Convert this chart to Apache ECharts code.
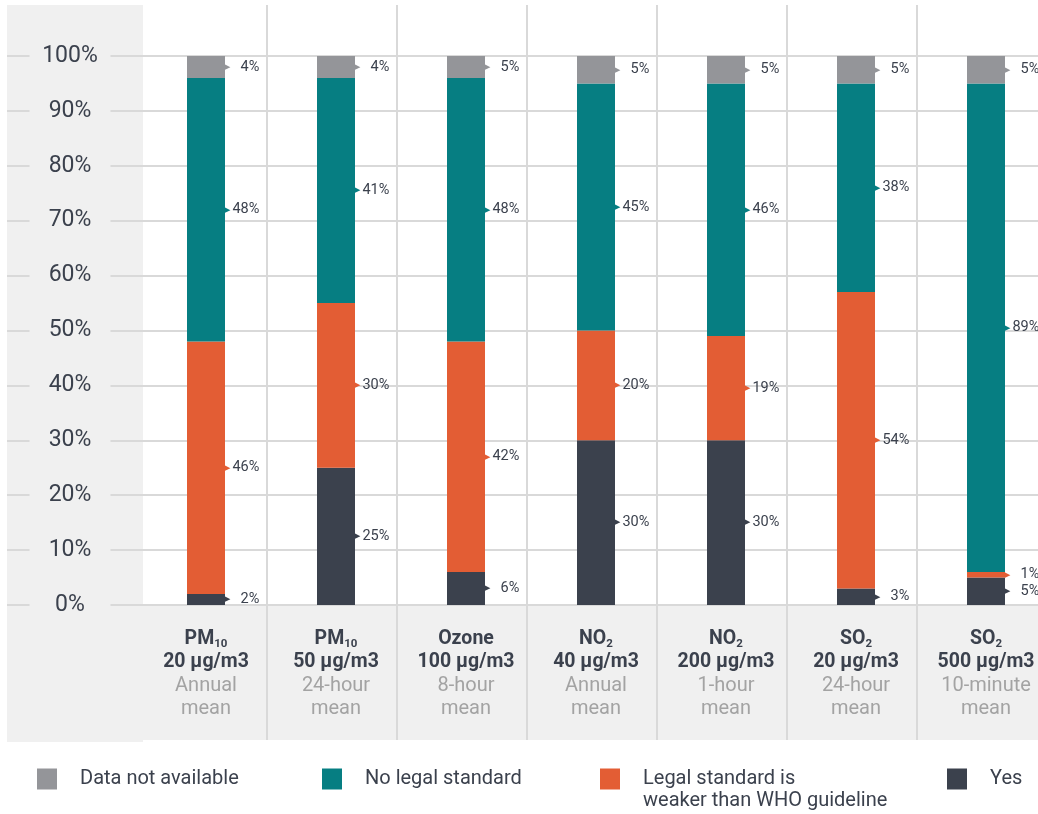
<!DOCTYPE html>
<html>
<head>
<meta charset="utf-8">
<script src="https://cdn.jsdelivr.net/npm/echarts@6/dist/echarts.min.js"></script>
<style>
html,body{margin:0;padding:0;background:#fff;}
#chart{width:1038px;height:814px;}
</style>
</head>
<body>
<div id="chart"></div>
<script>
// ---- data ----
const pollutants = ['PM', 'PM', 'Ozone', 'NO', 'NO', 'SO', 'SO'];
const subscripts = ['10', '10', '', '2', '2', '2', '2'];
const limits = ['20 µg/m3', '50 µg/m3', '100 µg/m3', '40 µg/m3', '200 µg/m3', '20 µg/m3', '500 µg/m3'];
const periods = ['Annual mean', '24-hour mean', '8-hour mean', 'Annual mean', '1-hour mean', '24-hour mean', '10-minute mean'];
const categories = pollutants.map((p, i) => p + subscripts[i] + ' ' + limits[i] + ' ' + periods[i]);

const seriesNames = ['Yes', 'Legal standard is weaker than WHO guideline', 'No legal standard', 'Data not available'];
const yesVals = [2, 25, 6, 30, 30, 3, 5];
const weakerVals = [46, 30, 42, 20, 19, 54, 1];
const noStdVals = [48, 41, 48, 45, 46, 38, 89];
const naVals = [4, 4, 5, 5, 5, 5, 5];
const yMin = 0, yMax = 100, yStep = 10;

// ---- style ----
const colors = ['#3b414d', '#e35d34', '#067e82', '#949599'];
const textDark = '#3b414d';
const panel = '#f0f0f0';
const lineCol = '#d9d9d9';

const chart = echarts.init(document.getElementById('chart'), null, {renderer: 'canvas'});

function makeSeries(name, vals, color) {
  return {
    name: name,
    type: 'bar',
    stack: 'total',
    xAxisIndex: 0,
    yAxisIndex: 0,
    barWidth: 38,
    clip: true,
    itemStyle: {color: color},
    z: 3,
    label: {
      show: true,
      position: 'right',
      distance: 0,
      formatter: p => '{a|▶}{t|' + p.value + '%}',
      rich: {
        a: {fontSize: 7, color: color, fontFamily: 'DejaVu Sans'},
        t: {fontSize: 14.5, color: textDark, fontFamily: 'Roboto', width: 29, align: 'right'}
      }
    },
    data: vals
  };
}

const legendBase = {
  icon: 'rect',
  itemWidth: 20,
  itemHeight: 21,
  top: 768,
  padding: 0,
  selectedMode: false,
  textStyle: {fontSize: 20, color: textDark, fontFamily: 'Roboto', lineHeight: 22, padding: [0, 0, 0, 18]}
};

const option = {
  animation: false,
  textStyle: {fontFamily: 'Roboto'},
  graphic: [
    {type: 'rect', z: -10, silent: true, shape: {x: 7, y: 5, width: 136, height: 737}, style: {fill: panel}},
    {type: 'rect', z: -10, silent: true, shape: {x: 143, y: 606, width: 895, height: 134}, style: {fill: panel}}
  ],
  legend: [
    Object.assign({}, legendBase, {left: 37, data: [seriesNames[3]]}),
    Object.assign({}, legendBase, {left: 322, data: [seriesNames[2]]}),
    Object.assign({}, legendBase, {left: 600, top: 746, data: [seriesNames[1]],
      formatter: () => ' \nLegal standard is\nweaker than WHO guideline'}),
    Object.assign({}, legendBase, {left: 947, data: [seriesNames[0]]})
  ],
  grid: [
    {left: 141, top: 56, width: 910, height: 549, outerBoundsMode: 'none', containLabel: false},
    {left: 7, right: 0, top: 56, height: 549, outerBoundsMode: 'none', containLabel: false},
    {left: 267, width: 780, top: 5, bottom: 74, outerBoundsMode: 'none', containLabel: false}
  ],
  xAxis: [
    {
      gridIndex: 0, type: 'category', data: categories,
      axisLine: {show: false}, axisTick: {show: false}, splitLine: {show: false},
      axisLabel: {
        interval: 0, margin: 22,
        formatter: (v, i) => {
          const per = periods[i];
          const k = per.lastIndexOf(' ');
          const head = '{b|' + pollutants[i] + '}' + (subscripts[i] ? '{s|' + subscripts[i] + '}' : '');
          return head + '\n{b|' + limits[i] + '}\n{g|' + per.slice(0, k) + '}\n{g|' + per.slice(k + 1) + '}';
        },
        rich: {
          b: {fontSize: 19.5, fontWeight: 'bold', color: textDark, lineHeight: 23.5, fontFamily: 'Roboto'},
          s: {fontSize: 11.5, fontWeight: 'bold', color: textDark, lineHeight: 15, verticalAlign: 'bottom', fontFamily: 'Roboto'},
          g: {fontSize: 20, color: '#a3a3a3', lineHeight: 23.5, fontFamily: 'Roboto'}
        }
      }
    },
    {gridIndex: 1, type: 'value', show: false, min: 0, max: 1},
    {
      gridIndex: 2, type: 'category', data: categories.slice(1),
      axisLine: {show: false}, axisTick: {show: false}, axisLabel: {show: false},
      splitLine: {show: true, interval: 0, lineStyle: {color: lineCol, width: 2}}
    }
  ],
  yAxis: [
    {gridIndex: 0, type: 'value', min: yMin, max: yMax, show: false},
    {
      gridIndex: 1, type: 'value', min: yMin, max: yMax, interval: yStep, z: 0,
      axisLine: {show: false}, axisTick: {show: false}, axisLabel: {show: false},
      splitLine: {show: true, lineStyle: {color: lineCol, width: 2}}
    },
    {
      gridIndex: 1, type: 'value', min: yMin, max: yMax, interval: yStep, position: 'left', z: 4,
      axisLine: {show: false}, axisTick: {show: false}, splitLine: {show: false},
      axisLabel: {
        inside: true, margin: 63, align: 'center', verticalAlign: 'middle',
        formatter: '{value}%', fontSize: 23, color: textDark, fontFamily: 'Roboto',
        width: 81, backgroundColor: panel, padding: [3, 0]
      }
    },
    {gridIndex: 2, type: 'value', show: false}
  ],
  series: [
    makeSeries(seriesNames[0], yesVals, colors[0]),
    makeSeries(seriesNames[1], weakerVals, colors[1]),
    makeSeries(seriesNames[2], noStdVals, colors[2]),
    makeSeries(seriesNames[3], naVals, colors[3])
  ]
};
chart.setOption(option);
</script>
</body>
</html>
